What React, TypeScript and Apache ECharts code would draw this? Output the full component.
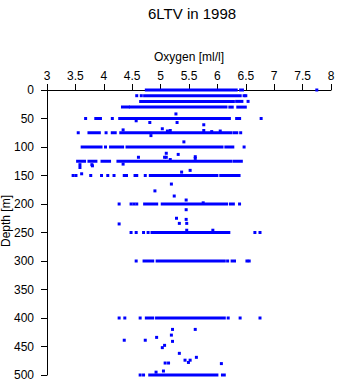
import React, { useEffect, useRef } from "react";
import * as echarts from "echarts";

// Dense horizontal runs of samples: [start oxygen, end oxygen] at a depth
const runStart = [4.74, 6.40, 4.71, 4.64, 6.33, 4.32, 4.46, 6.21, 6.35, 3.85, 4.30, 6.33, 3.73, 4.14, 4.29, 6.29, 3.61, 4.11, 4.40, 6.14, 3.53, 3.73, 3.96, 4.24, 6.29, 4.81, 6.05, 4.71, 5.02, 6.22, 4.84, 4.70, 4.93, 6.25, 4.74, 4.92, 4.80, 6.08];
const runEnd = [6.34, 6.45, 6.41, 6.29, 6.44, 4.44, 6.16, 6.27, 6.50, 3.95, 6.22, 6.40, 3.93, 4.21, 6.25, 6.35, 3.96, 4.34, 6.09, 6.28, 3.67, 3.87, 4.11, 6.25, 6.43, 6.00, 6.39, 4.94, 6.17, 6.29, 6.21, 4.87, 6.13, 6.31, 4.87, 6.13, 6.00, 6.13];
const runDepth = [0, 0, 10, 20, 20, 30, 30, 30, 30, 50, 50, 50, 75, 75, 75, 75, 100, 100, 100, 100, 125, 125, 125, 125, 125, 150, 150, 200, 200, 200, 250, 300, 300, 300, 400, 400, 500, 500];

// Isolated samples
const pointOxygen = [
  7.75, 4.58, 4.66, 6.47, 6.50, 6.54, 5.27,
  3.68, 4.15, 4.28, 6.77, 4.57, 4.81, 5.29, 5.76,
  3.55, 4.04, 6.41, 4.34, 4.83, 5.03, 5.12, 5.17, 5.76, 5.90, 6.05,
  5.41, 4.03, 6.47,
  5.10, 5.31, 4.61, 5.07, 5.10, 5.17, 5.61, 5.61,
  3.58, 3.58, 3.80, 3.79, 4.34, 3.61, 5.37, 5.52,
  3.46, 3.51, 3.77, 3.96, 4.07, 4.18, 4.36, 4.40, 4.55, 4.58, 4.73,
  5.19, 4.90, 5.24, 5.45,
  4.27, 4.48, 4.53, 4.58, 6.39, 5.75,
  5.45, 5.28, 5.33, 5.45, 5.46, 4.27, 5.46, 5.92,
  4.48, 4.57, 4.70, 4.78, 6.66, 6.75,
  4.57, 6.18, 6.52, 6.56,
  4.27, 4.37, 4.64, 6.19, 6.40, 6.75,
  5.21, 5.61, 5.19, 5.21, 4.36, 4.73, 4.93, 5.07, 5.03, 5.33, 5.08, 5.14, 5.43, 5.52, 5.49, 5.63, 6.07, 4.92, 5.05,
  4.64, 4.70,
];
const pointDepth = [
  0, 10, 10, 10, 10, 20, 42,
  50, 50, 50, 50, 54, 57, 57, 61,
  75, 75, 75, 70, 80, 68, 72, 71, 71, 73, 72,
  91, 100, 100,
  111, 113, 118, 118, 118, 122, 117, 120,
  131, 136, 133, 131, 130, 147, 144, 141,
  150, 150, 150, 150, 150, 150, 150, 150, 150, 150, 150,
  165, 177, 186, 193,
  200, 200, 200, 200, 200, 198,
  210, 225, 234, 227, 234, 235, 246, 246,
  250, 250, 250, 250, 250, 250,
  300, 300, 300, 300,
  400, 400, 400, 400, 400, 400,
  420, 420, 430, 441, 439, 439, 434, 448, 452, 462, 479, 479, 474, 474, 478, 469, 480, 495, 493,
  500, 500,
];

const FONT = "Liberation Sans, Arial, sans-serif";
const BLUE = "#0000ff";

export default function App() {
  const ref = useRef<HTMLDivElement>(null);
  useEffect(() => {
    if (!ref.current) return;
    const chart = echarts.init(ref.current, undefined, { renderer: "svg" });
    const runData = runStart.map((s, i) => [s, runEnd[i], runDepth[i]]);
    const pts = pointOxygen.map((o, i) => [o, pointDepth[i]]);
    chart.setOption({
      animation: false,
      backgroundColor: "#ffffff",
      title: {
        text: "6LTV in 1998",
        left: 143,
        top: 1,
        textStyle: { fontFamily: FONT, fontSize: 15, fontWeight: "normal", color: "#000" },
      },
      grid: { left: 47, top: 90, right: 7, bottom: 9, containLabel: false },
      xAxis: {
        type: "value",
        position: "top",
        min: 3,
        max: 8,
        interval: 0.5,
        name: "Oxygen [ml/l]",
        nameLocation: "middle",
        nameGap: 27,
        nameTextStyle: { fontFamily: FONT, fontSize: 12, color: "#000" },
        axisLine: { show: true, onZero: false, lineStyle: { color: "#000", width: 1 } },
        axisTick: { show: true, length: 6, lineStyle: { color: "#000" } },
        axisLabel: { fontFamily: FONT, fontSize: 12, color: "#000", margin: 8 },
        splitLine: { show: false },
      },
      yAxis: {
        type: "value",
        inverse: true,
        min: 0,
        max: 500,
        interval: 50,
        axisLine: { show: true, onZero: false, lineStyle: { color: "#000", width: 1 } },
        axisTick: { show: true, length: 6, lineStyle: { color: "#000" } },
        axisLabel: { fontFamily: FONT, fontSize: 12, color: "#000", margin: 13 },
        splitLine: { show: false },
      },
      graphic: [
        {
          type: "text",
          x: 6,
          y: 221,
          rotation: Math.PI / 2,
          style: {
            text: "Depth [m]",
            fontFamily: FONT,
            fontSize: 12,
            fill: "#000",
            align: "center",
            verticalAlign: "middle",
          },
        },
      ],
      series: [
        {
          type: "custom",
          data: runData,
          encode: { x: [0, 1], y: 2 },
          renderItem: (params: any, api: any) => {
            const a = api.coord([api.value(0), api.value(2)]);
            const b = api.coord([api.value(1), api.value(2)]);
            return {
              type: "rect",
              shape: { x: a[0] - 1, y: a[1] - 1.5, width: b[0] - a[0] + 2, height: 3 },
              style: { fill: BLUE },
            };
          },
        },
        {
          type: "scatter",
          data: pts,
          symbol: "rect",
          symbolSize: 3,
          itemStyle: { color: BLUE, opacity: 1 },
          emphasis: { disabled: true },
        },
      ],
    });
    return () => chart.dispose();
  }, []);
  return (
    <div
      ref={ref}
      style={{ position: "fixed", left: 0, top: 0, width: 338, height: 384 }}
    />
  );
}
